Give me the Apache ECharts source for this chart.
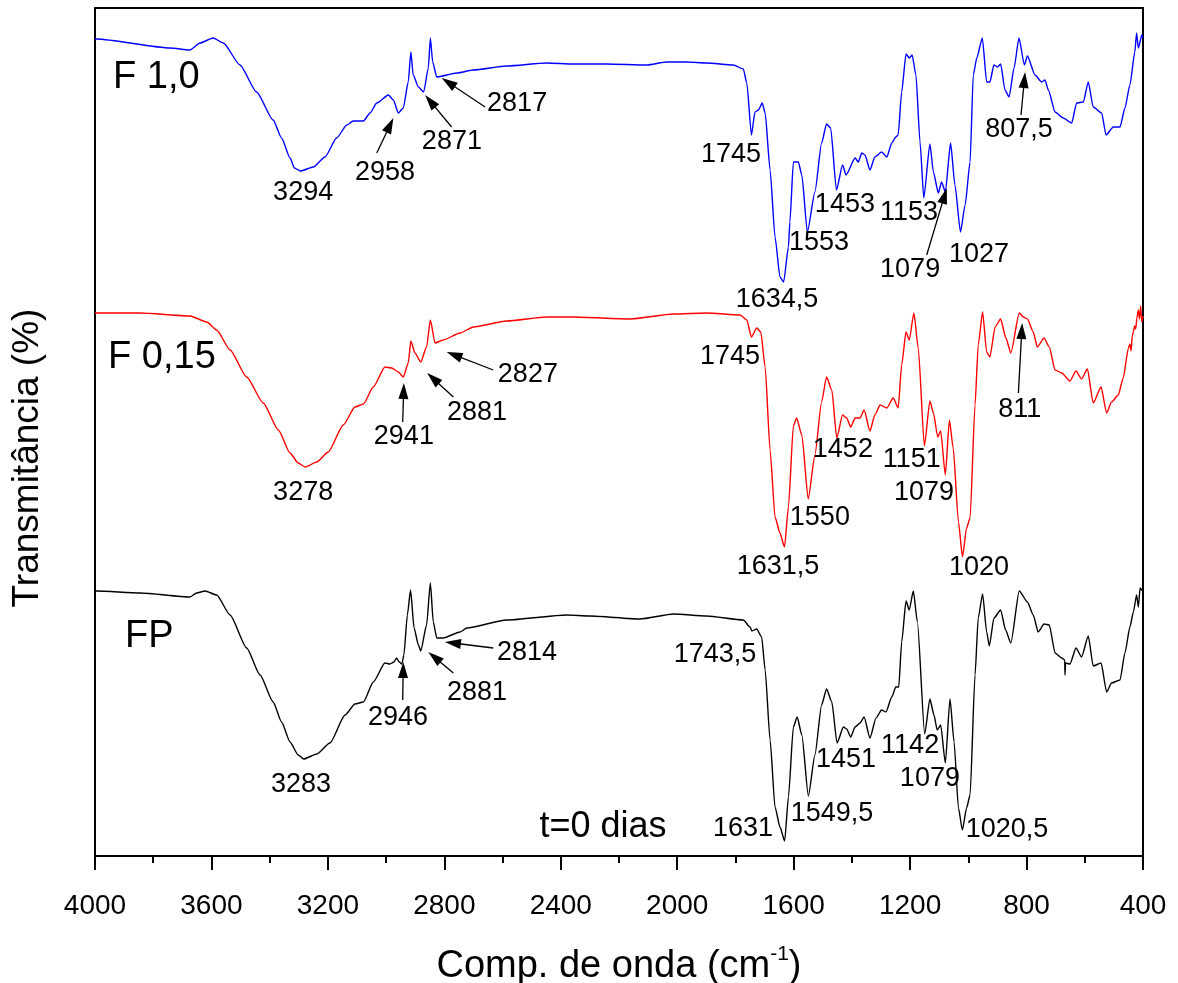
<!DOCTYPE html>
<html>
<head>
<meta charset="utf-8">
<script src="https://cdn.jsdelivr.net/npm/echarts/dist/echarts.min.js"></script>
<style>
  html, body { margin: 0; padding: 0; background: #fff; }
  #chart { width: 1178px; height: 983px; }
</style>
</head>
<body>
<div id="chart"></div>
<script>
// FTIR spectra (offset, arbitrary transmittance units) — wavenumber in cm-1
const f10Wn = [4000,3994,3742,3674,3639,3594,3559,3502,3445,3388,3359,3330,3315,3294,3250,3210,3170,3135,3113,3078,3055,3032,2992,2975,2958,2941,2924,2915,2907,2889,2871,2855,2848,2840,2826,2757,2700,2586,2448,2357,2242,2105,2036,1967,1899,1807,1773,1761,1745,1733,1721,1708,1698,1681,1664,1647,1634.5,1618,1613,1601,1584,1572,1553,1527,1504,1487,1473,1453,1432,1420,1389,1378,1366,1355,1338,1321,1298,1280,1263,1249,1241,1229,1214,1203,1193,1180,1166,1153,1132,1120,1103,1092,1079,1061,1046,1027,1011,994,983,971,952,937,926,912,900,889,874,860,843,826,807.5,797,771,748,737,725,702,674,645,628,605,588,571,542,527,502,479,462,445,428,422,416,404,400];
const f10T  = [817,817,808,806,813,818,813,791,764,736,718,698,688,685,689,699,718,731,735,735,743,753,761,756,743,748,774,804,781,769,764,788,818,794,779,783,786,790,793,792,792,791,794,794,793,791,787,773,721,744,746,753,743,686,619,579,574,609,634,694,694,681,624,664,713,732,728,666,691,681,698,694,703,701,686,699,704,699,713,719,721,764,802,798,801,781,714,658,712,684,663,674,664,713,671,624,651,694,781,798,818,774,774,791,789,792,766,759,788,818,791,800,781,774,776,766,744,738,733,753,754,774,749,743,721,729,729,748,771,804,823,808,821,818];

const f015Wn = [4000,3994,3845,3674,3616,3582,3536,3479,3422,3370,3330,3302,3278,3238,3199,3147,3107,3078,3044,3004,2981,2958,2941,2924,2915,2901,2881,2861,2848,2832,2804,2746,2700,2586,2448,2357,2162,2013,1899,1784,1761,1745,1727,1713,1698,1681,1664,1647,1631.5,1618,1601,1590,1572,1550,1527,1504,1487,1469,1452,1432,1418,1404,1389,1372,1358,1338,1321,1303,1280,1258,1241,1229,1214,1203,1187,1172,1151,1132,1120,1105,1095,1079,1065,1052,1034,1020,1006,994,977,966,951,937,926,908,889,871,854,825,811,797,777,763,740,722,702,679,651,630,611,591,571,544,525,508,485,468,450,445,441,437,433,429,425,421,416,412,408,404,400];
const f015T  = [543,543,543,540,534,526,506,479,453,426,403,393,389,394,404,431,449,452,469,489,488,484,479,493,515,503,494,509,536,513,516,523,529,535,539,539,537,542,543,541,536,519,528,524,489,406,339,323,309,349,430,438,421,357,401,454,479,466,418,441,438,429,438,438,446,425,441,451,448,458,448,491,524,516,543,508,410,455,443,419,425,381,436,408,334,299,328,338,451,511,544,504,499,529,537,518,503,543,539,537,524,509,518,509,486,483,475,485,477,487,453,469,443,454,461,478,508,512,505,520,524,530,527,538,546,537,550,534,540];

const fpWn = [4000,3994,3845,3674,3651,3622,3582,3536,3479,3433,3388,3359,3330,3302,3283,3238,3193,3141,3107,3078,3044,3004,2987,2973,2964,2955,2946,2939,2927,2916,2904,2889,2881,2861,2848,2838,2826,2804,2746,2723,2586,2380,2300,2128,2013,1899,1773,1750,1743.5,1727,1710,1698,1681,1664,1647,1631,1618,1601,1588,1572,1549.5,1527,1504,1487,1469,1451,1429,1418,1404,1389,1372,1358,1338,1317,1298,1283,1263,1249,1239,1229,1214,1203,1189,1175,1150,1132,1118,1107,1095,1079,1063,1049,1034,1020.5,1006,994,977,966,951,937,928,912,889,872,854,825,797,777,760,740,722,702,679,669,668,666,651,630,611,588,571,544,525,508,479,462,445,433,422,416,410,404,400];
const fpT  = [265,265,263,259,263,265,261,241,208,181,154,134,114,101,97,102,113,141,152,154,174,193,192,194,198,194,192,201,241,266,228,211,205,231,273,234,218,218,224,228,236,241,240,237,242,240,236,229,225,227,219,186,116,49,29,15,59,129,139,121,60,101,151,167,154,113,129,127,119,129,133,139,118,138,146,144,159,169,169,214,255,246,265,234,122,157,141,126,131,93,157,114,48,26,48,61,181,238,262,224,210,238,246,226,213,265,254,241,224,232,231,203,198,196,181,193,192,208,199,220,190,193,164,173,176,203,229,244,261,249,268,266,264];

// Curve names
const curveNames = [['F 1,0', 3938, 778], ['F 0,15', 3955, 498], ['FP', 3897, 219]];
const timeNote = [['t=0 dias', 2255, 29]];

// Peak labels: [text, wavenumber, level]
const peakLabels = [
  ['3294', 3285, 663], ['2958', 3004, 683], ['2871', 2774, 714], ['2817', 2550, 752],
  ['1745', 1815, 701], ['1634,5', 1657, 556], ['1553', 1513, 613], ['1453', 1424, 651],
  ['1153', 1204, 643], ['1079', 1200, 586], ['1027', 963, 601], ['807,5', 826, 726],
  ['3278', 3285, 363], ['2941', 2939, 419], ['2881', 2688, 443], ['2827', 2513, 481],
  ['1745', 1819, 499], ['1631,5', 1654, 289], ['1550', 1510, 338], ['1452', 1431, 406],
  ['1151', 1194, 396], ['1079', 1152, 363], ['1020', 963, 288], ['811', 823, 446],
  ['3283', 3292, 71], ['2946', 2959, 138], ['2881', 2688, 163], ['2814', 2516, 203],
  ['1743,5', 1870, 201], ['1631', 1774, 27], ['1549,5', 1468, 42], ['1451', 1420, 96],
  ['1142', 1200, 110], ['1079', 1132, 77], ['1020,5', 867, 26]
];

// Arrows: [tail wn, tail level, tip wn, tip level]
const arrows = [
  [3032, 703, 2975, 738], [2775, 729, 2866, 761], [2660, 749, 2809, 778],
  [1143, 601, 1074, 668], [819, 741, 805, 784],
  [2943, 434, 2939, 473], [2769, 459, 2859, 483], [2632, 486, 2792, 504],
  [828, 463, 815, 533],
  [2943, 156, 2941, 194], [2769, 183, 2855, 204], [2632, 208, 2798, 214]
];

const FONT = 'Arial, "Liberation Sans", sans-serif';
const INK = '#000000';
const zip = (xs, ys) => xs.map((x, i) => [x, ys[i]]);

function spectrum(name, wn, t, color) {
  return {
    name, type: 'line', data: zip(wn, t), showSymbol: false, symbol: 'none',
    smooth: 0.2, smoothMonotone: 'x',
    lineStyle: { color, width: 1.4 }, itemStyle: { color }, silent: true, animation: false, z: 3
  };
}

function textSeries(items, size, align) {
  return {
    type: 'scatter', symbolSize: 0, silent: true, animation: false, z: 6,
    itemStyle: { color: INK },
    data: items.map(d => ({ name: d[0], value: [d[1], d[2]] })),
    label: {
      show: true, position: [0, 0], formatter: '{b}', color: INK, opacity: 1,
      textBorderWidth: 0, fontSize: size, fontFamily: FONT,
      align: align, verticalAlign: 'middle'
    }
  };
}

const axisLine = { show: true, onZero: false, lineStyle: { color: INK, width: 2 } };

const option = {
  backgroundColor: '#fff',
  animation: false,
  grid: { left: 95, right: 35, top: 8, bottom: 127, containLabel: false, outerBoundsMode: 'none' },
  graphic: [{
    type: 'text', x: 28, y: 458, rotation: Math.PI / 2, silent: true,
    style: {
      text: 'Transmitância (%)', fill: INK, fontSize: 37, fontFamily: FONT,
      align: 'center', verticalAlign: 'middle'
    }
  }],
  xAxis: [{
    type: 'value', min: 400, max: 4000, interval: 400, inverse: true,
    axisLine: axisLine,
    axisTick: { show: true, length: 14, lineStyle: { color: INK, width: 2 } },
    minorTick: { show: true, splitNumber: 2, length: 7, lineStyle: { color: INK, width: 2 } },
    axisLabel: { color: INK, fontSize: 28, fontFamily: FONT, margin: 36, formatter: v => String(v) },
    splitLine: { show: false },
    name: 'Comp. de onda (cm{s|-1})',
    nameLocation: 'middle', nameGap: 88,
    nameTextStyle: {
      color: INK, fontSize: 38, fontFamily: FONT,
      rich: { s: { fontSize: 21, fontFamily: FONT, color: INK, verticalAlign: 'top', padding: [0, 0, 24, 0] } }
    }
  }, {
    type: 'value', position: 'top', min: 400, max: 4000, inverse: true,
    axisLine: axisLine, axisTick: { show: false }, axisLabel: { show: false }, splitLine: { show: false }
  }],
  yAxis: [{
    type: 'value', min: 0, max: 848,
    axisLine: axisLine, axisTick: { show: false }, axisLabel: { show: false }, splitLine: { show: false }
  }, {
    type: 'value', position: 'right', min: 0, max: 848,
    axisLine: axisLine, axisTick: { show: false }, axisLabel: { show: false }, splitLine: { show: false }
  }],
  series: [
    spectrum('F 1,0', f10Wn, f10T, '#0000ff'),
    spectrum('F 0,15', f015Wn, f015T, '#ff0000'),
    spectrum('FP', fpWn, fpT, '#000000'),
    textSeries(curveNames, 38, 'left'),
    textSeries(timeNote, 36, 'center'),
    textSeries(peakLabels, 27, 'center'),
    {
      id: 'setas', type: 'line', data: [], silent: true, animation: false, z: 5,
      markLine: {
        silent: true, animation: false,
        symbol: ['none', 'triangle'], symbolSize: [10, 16],
        lineStyle: { color: INK, width: 1.3, type: 'solid' },
        itemStyle: { color: INK },
        label: { show: false },
        data: arrows.map(a => [{ coord: [a[0], a[1]] }, { coord: [a[2], a[3]] }])
      }
    }
  ]
};

const chart = echarts.init(document.getElementById('chart'), null, { renderer: 'canvas' });
chart.setOption(option);

// Pull each arrow end back so the head's tip (not its centre) lands on the target.
const arrowLines = arrows.map(a => {
  const p1 = chart.convertToPixel({ gridIndex: 0 }, [a[0], a[1]]);
  const p2 = chart.convertToPixel({ gridIndex: 0 }, [a[2], a[3]]);
  const dx = p2[0] - p1[0], dy = p2[1] - p1[1], L = Math.hypot(dx, dy) || 1;
  const end = chart.convertFromPixel({ gridIndex: 0 }, [p2[0] - dx / L * 8, p2[1] - dy / L * 8]);
  return [{ coord: [a[0], a[1]] }, { coord: end }];
});
chart.setOption({ series: [{ id: 'setas', markLine: { data: arrowLines } }] });
</script>
</body>
</html>
